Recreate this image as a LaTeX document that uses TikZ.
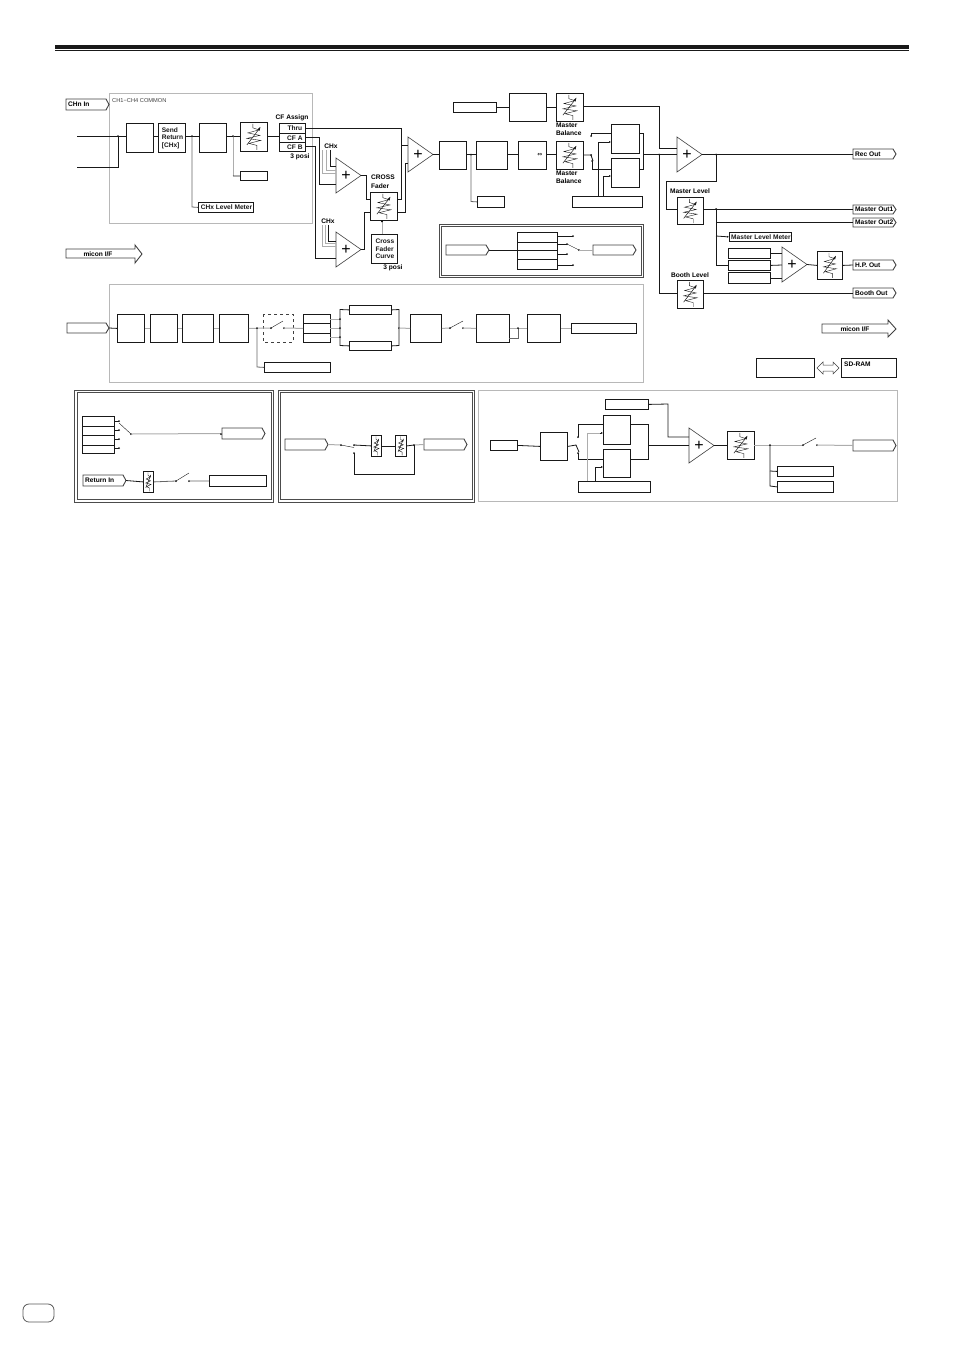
\documentclass[tikz,border=0pt]{standalone}
\usepackage{fontspec}
\setmainfont{Liberation Sans}
\newfontfamily\symfont{DejaVu Sans}
\usetikzlibrary{calc,arrows.meta}
\definecolor{ln}{gray}{0.1}
\definecolor{gl}{gray}{0.68}
\definecolor{fr}{gray}{0.72}
\tikzset{
  wire/.style={ln,line width=0.8pt},
  gwire/.style={gl,line width=1pt},
  mwire/.style={gray!80!black,line width=0.8pt},
  frame/.style={fr,line width=0.7pt},
  dblframe/.style={gray!60!black,line width=0.9pt},
  lab/.style={font=\bfseries\fontsize{6.6}{7.4}\selectfont,text=black,inner sep=0pt,align=left},
  dotc/.style={circle,fill=ln,inner sep=0pt,minimum size=2pt},
  tagline/.style={gray!50!black,line width=0.9pt,fill=white},
  tri/.style={gray!50!black,line width=0.6pt,fill=white},
  boxl/.style={ln,line width=0.8pt,fill=white,inner sep=0pt,font=\bfseries\fontsize{6.6}{7.4}\selectfont,align=left}
}
% \bx{name}{x1}{y1}{x2}{y2}{text}
\newcommand{\bx}[6]{%
  \pgfmathsetmacro{\bxw}{#4-#2}\pgfmathsetmacro{\bxh}{#5-#3}%
  \node[boxl,draw,rectangle,minimum width=\bxw pt,minimum height=\bxh pt,anchor=north west] (#1) at (#2,#3) {#6};}
% \tagr{name}{x1}{y1}{x2}{y2}{text}
\newcommand{\tagr}[6]{%
  \draw[tagline] (#2,#3) -- (#4-3,#3) -- (#4,#3/2+#5/2) -- (#4-3,#5) -- (#2,#5) -- cycle;
  \coordinate (#1-w) at (#2,#3/2+#5/2);\coordinate (#1-e) at (#4,#3/2+#5/2);
  \node[lab,anchor=west] (#1) at (#2+2,#3/2+#5/2) {#6};}
% \fader{name}{x1}{y1}{x2}{y2}
\newcommand{\fader}[5]{%
  \bx{#1}{#2}{#3}{#4}{#5}{}
  \begin{scope}[shift={($(#1.center)$)},xscale={(#4-#2)/27},yscale={(#5-#3)/29}]
    \draw[ln,line width=0.4pt] (-1,-13) -- (-1,-9) -- (5,-7) -- (-6,-4) -- (6,-1.5) -- (-7,1.5) -- (7,3.5) -- (-5,6.5) -- (3,8.5) -- (3,13);
    \draw[ln,line width=0.5pt] (-7,8) -- (6,-9);
    \fill[ln] (6.5,-10) -- (3.6,-7.6) -- (5.6,-6) -- cycle;
  \end{scope}}
% \amp{name}{x1}{y1}{x2}{y2}
\newcommand{\amp}[5]{%
  \draw[tri] (#2,#3) -- (#4,#3/2+#5/2) -- (#2,#5) -- cycle;
  \coordinate (#1-o) at (#4,#3/2+#5/2);
  \node[inner sep=0pt] (#1) at (#2+10,#3/2+#5/2) {\fontsize{16}{16}\selectfont +};}
\newcommand{\dt}[2]{\node[dotc] at (#1,#2) {};}
\begin{document}
\begin{tikzpicture}[x=1pt,y=-1pt]
\useasboundingbox (0,0) rectangle (954,1350);
% header rule and page tab
\fill[black!90] (55,45) rectangle (909,49);
\fill[black!90] (55,50.2) rectangle (909,51.2);
\draw[gray!70!black,line width=0.8pt,rounded corners=6pt] (23,1304) rectangle (54,1322);

% ---------- frames ----------
\draw[frame] (109,93) rectangle (312,223);
\draw[frame] (109,284) rectangle (643,382);
\draw[frame] (478,390) rectangle (897,501);
\draw[dblframe] (439,224) rectangle (643,277);
\draw[dblframe] (441,226) rectangle (641,275);
\draw[dblframe] (74,390) rectangle (273,502);
\draw[dblframe] (77,392.5) rectangle (271,499.5);
\draw[dblframe] (278,390) rectangle (474,502);
\draw[dblframe] (280.5,392.5) rectangle (472,499.5);
\node[font=\fontsize{5.7}{6}\selectfont,text=black!75,inner sep=0pt,anchor=west] (common) at (112,100.5) {CH1−CH4 COMMON};

% ---------- CH strip ----------
\tagr{chin}{66}{99}{109}{110}{CHn In}
\coordinate (ina) at (77,136);\coordinate (inb) at (77,167);
\bx{b1}{126}{123}{153}{152}{}
\bx{send}{158}{123}{185}{152}{\,Send\\\,Return\\\,{[}CHx{]}}
\bx{b3}{199}{123}{226}{152}{}
\fader{f1}{240}{122}{267}{151}
\bx{thru}{279}{123}{305}{133}{\hspace*{5pt}Thru}
\bx{cfa}{279}{133}{305}{142}{\hspace*{5pt}CF A}
\bx{cfb}{279}{142}{305}{151}{\hspace*{5pt}CF B}
\bx{sm1}{240}{171}{267}{180}{}
\bx{lvm}{198}{202}{253}{212}{\,CHx Level Meter}
\node[lab] (cfas) at (292,118) {CF Assign};
\node[lab] (p1) at (300,156.5) {3 posi};
\draw[wire] (ina) -- (b1.west|-ina);
\draw[wire] (inb) -- (118,167) -- (118,136);
\dt{118}{136}
\draw[wire] (b1.east|-ina) -- (send.west|-ina);
\draw[wire] (send.east|-ina) -- (b3.west|-ina);
\draw[wire] (b3.east|-ina) -- (f1.west|-ina);
\draw[wire] (f1.east|-ina) -- (thru.west|-ina);
\draw[gwire] (233,136) -- (233,176);
\draw[wire] (233,176) -- (sm1.west);
\dt{233}{136}
\draw[mwire] (192,136) -- (192,207) -- (lvm.west);
\dt{192}{136}

% ---------- amps and cross fader ----------
\amp{a1}{336}{158}{361}{193}
\amp{a2}{336}{232}{361}{267}
\amp{a3}{408}{137}{433}{172}
\node[lab] (chx1) at (331,146) {CHx};
\node[lab] (chx2) at (328,221.5) {CHx};
\draw[wire] (330,150) -- (330,166) -- (336,166);
\draw[gwire] (326,150) -- (326,170) -- (336,170);
\draw[gwire] (322,150) -- (322,173) -- (336,173);
\draw[wire] (328,225) -- (328,241) -- (336,241);
\draw[gwire] (325,225) -- (325,243.5) -- (336,243.5);
\draw[gwire] (322,225) -- (322,246) -- (336,246);
\draw[wire] (thru.east|-0,128) -- (401,128) -- (401,145) -- (408,145);
\draw[wire] (cfa.east|-0,137) -- (319,137) -- (319,184) -- (336,184);
\draw[wire] (cfb.east|-0,146) -- (315,146) -- (315,258) -- (336,258);
\fader{xf}{370}{192}{397}{220}
\bx{xc}{371}{234}{397}{263}{\,Cross\\\,Fader\\\,Curve}
\node[lab,anchor=west] (xft) at (371,177.5) {CROSS};
\node[lab,anchor=west] (xft2) at (371,186) {Fader};
\node[lab] (p2) at (393,268) {3 posi};
\draw[wire] (a1-o) -- (366,175.5) -- (366,199) -- (370,199);
\draw[wire] (a2-o) -- (364,249.5) -- (364,212) -- (370,212);
\draw[wire] (397,199) -- (401,199) -- (401,145);
\draw[wire] (397,212) -- (405,212) -- (405,163) -- (408,163);
\draw[gwire,-{Latex[length=2pt,width=2pt,black]}] (xc.north-|382,0) -- (382,220);

% ---------- master row ----------
\bx{ba}{439}{141}{466}{169}{}
\bx{bb}{476}{141}{507}{169}{}
\bx{bc}{518}{141}{546}{169}{}
\node[font=\symfont\fontsize{6}{6}\selectfont,inner sep=0pt] (dbl) at (540,155) {⇔};
\fader{fb}{556}{141}{583}{169}
\bx{sm2}{477}{196}{504}{207}{}
\draw[wire] (a3-o) -- (ba.west|-a3-o);
\draw[wire] (ba.east|-a3-o) -- (bb.west|-a3-o);
\draw[wire] (bb.east|-a3-o) -- (bc.west|-a3-o);
\draw[wire] (bc.east|-a3-o) -- (fb.west|-a3-o);
\draw[mwire] (471,154.5) -- (471,201.5) -- (sm2.west);
\dt{471}{154.5}
\bx{r1}{453}{102}{496}{112}{}
\bx{bt}{509}{93}{546}{121}{}
\fader{ft}{556}{93}{583}{121}
\draw[wire] (r1.east) -- (bt.west|-r1.east);
\draw[wire] (bt.east|-r1.east) -- (ft.west|-r1.east);
\node[lab,anchor=west] (mb1) at (556,125) {Master};
\node[lab,anchor=west] (mb2) at (556,133) {Balance};
\node[lab,anchor=west] (mb3) at (556,173.5) {Master};
\node[lab,anchor=west] (mb4) at (556,181) {Balance};
\bx{ru}{611}{124}{639}{153}{}
\bx{rl}{611}{158}{639}{187}{}
\bx{rb}{572}{196}{642}{207}{}
\draw[wire] (583,155) -- (591,155) -- (593,161);
\draw[wire] (591,136) -- (591,133) -- (611,133);
\draw[wire] (592,161) -- (592,169) -- (611,169);
\dt{591}{155}\dt{591}{136}\dt{592}{161}
\draw[wire,-{Latex[length=2pt,width=2pt]}] (598,196) -- (598,142) -- (611,142);
\draw[wire,-{Latex[length=2pt,width=2pt]}] (603,196) -- (603,176) -- (611,176);
\draw[wire] (639,133) -- (643,133) -- (643,169) -- (639,169);
\amp{a4}{677}{137}{702}{172}
\draw[wire] (643,154.5) -- (677,154.5);
\dt{659}{154.5}
\draw[wire] (583,106) -- (659,106) -- (659,148) -- (677,148);
\tagr{rec}{853}{149}{896}{159}{Rec Out}
\draw[wire] (a4-o) -- (853,154.5);
\dt{716}{154.5}
\fader{fm}{677}{197}{703}{224}
\node[lab] (mlv) at (690,191) {Master Level};
\draw[wire] (716,154.5) -- (716,181) -- (666,181) -- (666,209) -- (677,209);
\tagr{mo1}{853}{205}{896}{214}{Master Out1}
\tagr{mo2}{853}{218}{896}{227}{Master Out2}
\draw[wire] (703,209) -- (853,209);
\draw[wire] (716,222) -- (853,222);
\dt{716}{209}
\bx{mlm}{729}{232}{791}{241}{\,Master Level Meter}
\draw[wire] (716,209) -- (716,265) -- (728,265);
\draw[wire,-{Latex[length=2pt,width=2pt]}] (716,236) -- (mlm.west);
\bx{h1}{728}{248}{770}{258}{}
\bx{h2}{728}{260}{770}{270}{}
\bx{h3}{728}{272}{770}{283}{}
\amp{a5}{782}{247}{807}{282}
\draw[wire] (h1.east|-0,253) -- (782,253);
\draw[wire] (h2.east) -- (782,265);
\draw[wire] (h3.east|-0,278) -- (782,278);
\fader{fh}{817}{251}{842}{279}
\draw[wire] (a5-o) -- (fh.west);
\tagr{hp}{853}{260}{896}{270}{H.P. Out}
\draw[wire] (fh.east) -- (hp-w);
\fader{fbo}{677}{280}{703}{308}
\node[lab] (blv) at (690,275) {Booth Level};
\draw[wire] (659,154.5) -- (659,293) -- (677,293);
\tagr{bo}{853}{288}{896}{298}{Booth Out}
\draw[wire] (fbo.east|-0,293) -- (bo-w);

% ---------- micon arrows ----------
\draw[tagline] (66,249) -- (135,249) -- (135,245) -- (142,254) -- (135,263) -- (135,258) -- (66,258) -- cycle;
\node[lab] (mic1) at (98,254) {micon I/F};
\draw[tagline] (822,324) -- (888,324) -- (888,320) -- (896,329) -- (888,337) -- (888,333) -- (822,333) -- cycle;
\node[lab] (mic2) at (855,329) {micon I/F};
\bx{dsp}{756}{358}{814}{377}{}
\bx{sd}{841}{358}{896}{377}{}
\node[lab,anchor=west] (sdt) at (844,364.5) {SD-RAM};
\draw[tagline,line width=0.5pt] (817,368) -- (823,362) -- (823,365) -- (833,365) -- (833,362) -- (839,368) -- (833,374) -- (833,371) -- (823,371) -- (823,374) -- cycle;

% ---------- small inset ----------
\tagr{i1}{446}{245}{489}{255}{}
\bx{s1}{517}{232}{557}{242}{}
\bx{s2}{517}{242}{557}{250}{}
\bx{s3}{517}{250}{557}{259}{}
\bx{s4}{517}{259}{557}{269}{}
\draw[wire] (i1-e) -- (517,250);
\draw[wire] (557,236) -- (573,236);\dt{573}{236}
\draw[wire] (557,244) -- (567,244);\dt{567}{244}
\draw[wire] (557,254) -- (567,254);\dt{567}{254}
\draw[wire] (557,265) -- (573,265);\dt{573}{265}
\draw[ln,line width=0.4pt] (567,244) -- (579,250);\dt{579}{250}
\tagr{i2}{593}{245}{636}{255}{}
\draw[gwire] (579,250) -- (i2-w);

% ---------- middle band ----------
\tagr{t1}{67}{323}{109}{333}{}
\bx{m1}{117}{314}{144}{342}{}
\bx{m2}{150}{314}{177}{342}{}
\bx{m3}{182}{314}{213}{342}{}
\bx{m4}{219}{314}{248}{342}{}
\draw[wire] (t1-e) -- (m1.west);
\draw[gwire] (m1) -- (m2);
\draw[gwire] (m2) -- (m3);
\draw[gwire] (m3) -- (m4);
\draw[dashed,gray!50!black,line width=0.6pt] (263,314) rectangle (293,342);
\draw[gwire] (m4.east) -- (271,328);
\draw[ln,line width=0.4pt] (271,328) -- (283,321);
\dt{271}{328}\dt{284}{328}
\bx{q1}{303}{314}{330}{323}{}
\bx{q2}{303}{323}{330}{333}{}
\bx{q3}{303}{333}{330}{342}{}
\draw[gwire] (284,328) -- (q2.west);
\bx{q4}{264}{362}{330}{372}{}
\draw[mwire] (257,328) -- (257,367) -- (q4.west);
\dt{257}{328}
\draw[gwire] (330,319) -- (340,319);
\draw[gwire] (330,328) -- (340,328);
\draw[gwire] (330,337) -- (340,337);
\dt{340}{319}\dt{340}{328}\dt{340}{337}
\bx{d1}{349}{305}{391}{314}{}
\bx{d2}{349}{341}{391}{350}{}
\draw[wire] (d1.west) -- (340,309.5) -- (340,345.5) -- (d2.west);
\draw[wire] (d1.east) -- (399,309.5) -- (399,345.5) -- (d2.east);
\dt{399}{328}
\bx{m5}{410}{314}{441}{342}{}
\draw[gwire] (399,328) -- (m5.west);
\draw[gwire] (m5.east) -- (450,328);
\draw[ln,line width=0.4pt] (450,328) -- (463,321);
\dt{450}{328}\dt{463}{328}
\bx{m6}{476}{314}{509}{342}{}
\bx{m7}{527}{314}{560}{342}{}
\bx{m8}{571}{323}{636}{333}{}
\draw[gwire] (463,328) -- (m6.west);
\draw[gwire] (m6.east) -- (m7.west);
\draw[gwire] (m7.east) -- (m8.west);
\draw[mwire] (509,338) -- (518,338) -- (518,328);
\dt{518}{328}

% ---------- lower-left inset ----------
\bx{u1}{82}{416}{114}{426}{}
\bx{u2}{82}{426}{114}{435}{}
\bx{u3}{82}{435}{114}{445}{}
\bx{u4}{82}{445}{114}{453}{}
\draw[wire] (114,421) -- (119,421);\dt{119}{421}
\draw[wire] (114,430) -- (119,430);\dt{119}{430}
\draw[wire] (114,439) -- (119,439);\dt{119}{439}
\draw[wire] (114,448) -- (119,448);\dt{119}{448}
\draw[ln,line width=0.4pt] (119,423) -- (131,434);\dt{131}{434}
\tagr{u5}{222}{428}{265}{439}{}
\draw[gwire] (131,434) -- (u5-w);\dt{221}{434}
\tagr{ret}{83}{475}{126}{486}{Return In}
\fader{uf}{143}{471}{153}{492}
\bx{u6}{209}{475}{266}{486}{}
\draw[wire] (ret-e) -- (uf.west);
\draw[mwire] (uf.east) -- (176,481);
\draw[ln,line width=0.4pt] (176,481) -- (189,473);
\dt{176}{481}\dt{189}{481}
\draw[mwire] (189,481) -- (u6.west);

% ---------- lower-middle inset ----------
\tagr{v1}{285}{439}{328}{450}{}
\draw[gwire] (v1-e) -- (341,445);\dt{341}{445}
\draw[ln,line width=0.4pt] (341,445) -- (354,447.5);
\dt{354}{445}\dt{354}{453}
\fader{vf1}{371}{435}{381}{456}
\fader{vf2}{395}{435}{406}{456}
\tagr{v2}{424}{439}{467}{450}{}
\draw[wire] (354,445) -- (vf1.west);
\draw[wire] (vf1.east) -- (vf2.west);
\draw[wire] (vf2.east) -- (414,445);
\draw[gwire] (414,445) -- (v2-w);
\draw[wire] (354,453) -- (354,474) -- (414,474) -- (414,445);
\dt{414}{445}

% ---------- lower-right band ----------
\bx{w1}{490}{440}{517}{450}{}
\bx{w2}{540}{432}{567}{460}{}
\draw[wire] (w1.east) -- (w2.west);
\draw[wire] (w2.east) -- (576,445) -- (579,452);
\dt{578}{437}\dt{578}{453}
\bx{w3}{603}{415}{630}{444}{}
\bx{w4}{603}{449}{630}{477}{}
\bx{w5}{578}{481}{650}{492}{}
\bx{w6}{605}{399}{648}{409}{}
\draw[wire] (578,437) -- (578,424) -- (603,424);
\draw[wire] (578,453) -- (578,459) -- (603,459);
\draw[gwire] (587,481) -- (587,433) -- (600,433);
\draw[ln,-{Latex[length=2pt,width=2pt]},line width=0.5pt] (600,433) -- (603,433);
\draw[wire,-{Latex[length=2pt,width=2pt]}] (595,481) -- (595,467) -- (603,467);
\draw[wire] (630,424) -- (648,424) -- (648,459) -- (630,459);
\amp{a6}{689}{428}{714}{463}
\draw[wire] (648,445) -- (689,445);
\draw[wire] (w6.east) -- (668,404) -- (668,437) -- (689,437);
\fader{wf}{727}{431}{754}{459}
\draw[wire] (a6-o) -- (wf.west|-a6-o);
\tagr{w7}{853}{440}{896}{451}{}
\draw[gwire] (754,445) -- (803,445);
\draw[ln,line width=0.4pt] (803,445) -- (816,438);
\dt{803}{445}\dt{817}{445}
\draw[gwire] (817,445) -- (w7-w);
\dt{770}{445}
\bx{w8}{777}{466}{833}{476}{}
\bx{w9}{777}{481}{833}{492}{}
\draw[wire] (770,445) -- (770,486) -- (w9.west);
\draw[wire] (770,471) -- (w8.west);
\end{tikzpicture}
\end{document}
